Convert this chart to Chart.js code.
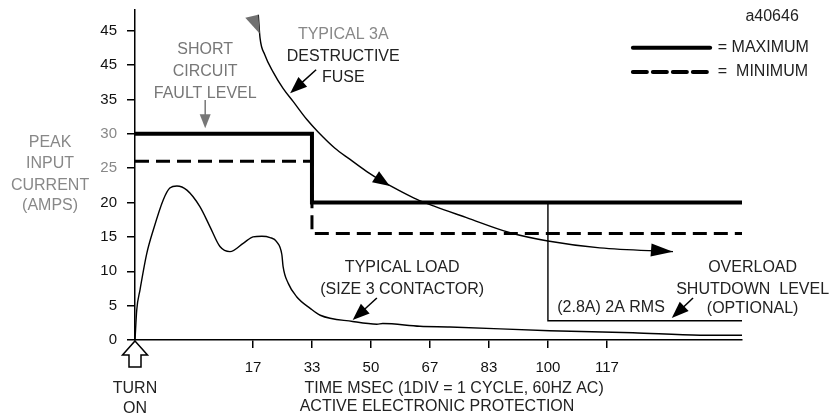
<!DOCTYPE html>
<html>
<head>
<meta charset="utf-8">
<script src="https://cdn.jsdelivr.net/npm/chart.js@4.4.1/dist/chart.umd.min.js"></script>
<style>
  body { margin: 0; background: #fff; }
  canvas { display: block; }
</style>
</head>
<body>
<canvas id="chart" width="832" height="418"></canvas>
<script>
// x is in divisions (1 div = 1 cycle), y in amps
const xTickPos = [2, 3, 4, 5, 6, 7, 8];
const xTickLabels = ['17', '33', '50', '67', '83', '100', '117'];
const yTickPos = [0, 5, 10, 15, 20, 25, 30, 35, 40, 45];
const yTickLabels = ['0', '5', '10', '15', '20', '25', '30', '35', '45', '45'];

const maxX = [0, 3, 3, 10.29];
const maxY = [30, 30, 20, 20];
const minX = [0, 3, 3, 10.29];
const minY = [26, 26, 15.5, 15.5];

const loadX = [0, 0.03, 0.085, 0.2, 0.31, 0.48, 0.59, 0.71, 0.88, 1.10, 1.27, 1.44, 1.61, 1.84, 2.0, 2.15, 2.29, 2.40, 2.49, 2.51, 2.6, 2.74, 2.97, 3.14, 3.69, 4.1, 4.2, 4.83, 5.34, 7.03, 8.44, 9.58, 10.29];
const loadY = [0, 4.4, 7.3, 12.6, 16.0, 20.4, 22.1, 22.4, 21.8, 19.4, 16.5, 13.6, 12.85, 14.1, 15.0, 15.1, 14.9, 14.3, 12.4, 10.7, 8.2, 6.3, 4.6, 3.6, 2.7, 2.3, 2.4, 2.0, 1.9, 1.35, 1.06, 0.7, 0.7];

const fuseX = [2.09, 2.12, 2.20, 2.34, 2.51, 2.68, 2.91, 3.10, 3.39, 3.64, 3.93, 4.21, 4.49, 4.77, 5.06, 5.62, 6.36, 7.0, 7.88, 9.12];
const fuseY = [47.3, 43.9, 41.5, 39.0, 36.6, 34.7, 32.1, 30.3, 27.9, 26.3, 24.5, 23.0, 21.7, 20.5, 19.5, 17.8, 15.6, 14.4, 13.4, 12.85];

const overloadX = [7, 7, 10.29];
const overloadY = [20, 2.8, 2.8];

const FONT = '"Liberation Sans", Arial, sans-serif';

function pts(xs, ys) {
  return xs.map((x, i) => ({ x: x, y: ys[i] }));
}

// text annotations: [text, x, y, color]
const labels = [
  ['a40646', 10.80, 47.1, '#222'],
  ['SHORT', 1.19, 42.2, '#777'],
  ['CIRCUIT', 1.19, 39.1, '#777'],
  ['FAULT LEVEL', 1.19, 35.9, '#777'],
  ['TYPICAL 3A', 3.53, 44.4, '#888'],
  ['DESTRUCTIVE', 3.53, 41.2, '#222'],
  ['FUSE', 3.53, 38.1, '#222'],
  ['PEAK', -1.44, 28.65, '#888'],
  ['INPUT', -1.44, 25.6, '#888'],
  ['CURRENT', -1.44, 22.5, '#888'],
  ['(AMPS)', -1.44, 19.5, '#888'],
  ['TYPICAL LOAD', 4.53, 10.6, '#222'],
  ['(SIZE 3 CONTACTOR)', 4.53, 7.4, '#222'],
  ['OVERLOAD', 10.47, 10.6, '#222'],
  ['SHUTDOWN  LEVEL', 10.47, 7.4, '#222'],
  ['(OPTIONAL)', 10.47, 4.5, '#222'],
  ['(2.8A) 2A RMS', 8.07, 4.65, '#222'],
  ['TURN', 0, -7.0, '#222'],
  ['ON', 0, -10.0, '#222'],
  ['TIME MSEC (1DIV = 1 CYCLE, 60HZ AC)', 5.41, -7.0, '#222'],
  ['ACTIVE ELECTRONIC PROTECTION', 5.12, -9.75, '#222']
];

// arrows: [fromX, fromY, toX, toY, color, headLen, headHalfW, drawShaft]
const arrows = [
  [1.19, 34.9, 1.19, 30.8, '#777', 14, 5.5, true],
  [3.07, 39.3, 2.63, 35.9, '#000', 17, 6.5, true],
  [4.10, 6.1, 3.69, 2.9, '#000', 17, 6.5, true],
  [9.46, 6.1, 9.10, 3.2, '#000', 17, 6.5, true],
  [4.03, 24.0, 4.32, 22.4, '#000', 17, 6.5, false],
  [8.75, 13.1, 9.12, 12.85, '#000', 22, 6.5, false]
];

function arrowHead(ctx, x1, y1, x2, y2, len, hw, color) {
  const a = Math.atan2(y2 - y1, x2 - x1);
  const bx = x2 - len * Math.cos(a), by = y2 - len * Math.sin(a);
  ctx.fillStyle = color;
  ctx.beginPath();
  ctx.moveTo(x2, y2);
  ctx.lineTo(bx + hw * Math.sin(a), by - hw * Math.cos(a));
  ctx.lineTo(bx - hw * Math.sin(a), by + hw * Math.cos(a));
  ctx.closePath();
  ctx.fill();
}

const annotations = {
  id: 'annotations',
  afterDraw(chart) {
    const ctx = chart.ctx;
    const xs = chart.scales.x, ys = chart.scales.y;
    const px = v => xs.getPixelForValue(v);
    const py = v => ys.getPixelForValue(v);
    ctx.save();

    ctx.font = '16px ' + FONT;
    ctx.textAlign = 'center';
    ctx.textBaseline = 'middle';
    labels.forEach(l => {
      ctx.fillStyle = l[3];
      ctx.fillText(l[0], px(l[1]), py(l[2]));
    });

    arrows.forEach(a => {
      const x1 = px(a[0]), y1 = py(a[1]), x2 = px(a[2]), y2 = py(a[3]);
      if (a[7]) {
        ctx.strokeStyle = a[4];
        ctx.lineWidth = 1.5;
        ctx.beginPath();
        ctx.moveTo(x1, y1);
        const ang = Math.atan2(y2 - y1, x2 - x1);
        ctx.lineTo(x2 - (a[5] - 2) * Math.cos(ang), y2 - (a[5] - 2) * Math.sin(ang));
        ctx.stroke();
      }
      arrowHead(ctx, x1, y1, x2, y2, a[5], a[6], a[4]);
    });

    // gray marker at the start of the fuse curve
    const fx = px(fuseX[0]), fy = py(fuseY[0]);
    ctx.fillStyle = '#707070';
    ctx.beginPath();
    ctx.moveTo(fx - 13, fy + 3);
    ctx.lineTo(fx, fy);
    ctx.lineTo(fx + 1.5, fy + 19);
    ctx.closePath();
    ctx.fill();

    // legend
    const lx1 = px(8.44), lx2 = px(9.75);
    ctx.strokeStyle = '#000';
    ctx.lineWidth = 4;
    ctx.lineCap = 'round';
    ctx.beginPath();
    ctx.moveTo(lx1, py(42.5));
    ctx.lineTo(lx2, py(42.5));
    ctx.stroke();
    ctx.setLineDash([14, 6]);
    ctx.beginPath();
    ctx.moveTo(lx1, py(39.0));
    ctx.lineTo(lx2, py(39.0));
    ctx.stroke();
    ctx.setLineDash([]);
    ctx.lineCap = 'butt';
    ctx.fillStyle = '#222';
    ctx.textAlign = 'left';
    ctx.fillText('= MAXIMUM', px(9.88), py(42.5));
    ctx.fillText('=  MINIMUM', px(9.88), py(39.0));

    // hollow turn-on arrow under the origin
    const ox = px(0), oy = py(0) + 1;
    ctx.fillStyle = '#fff';
    ctx.strokeStyle = '#000';
    ctx.lineWidth = 1.5;
    ctx.beginPath();
    ctx.moveTo(ox, oy);
    ctx.lineTo(ox + 12.5, oy + 14);
    ctx.lineTo(ox + 6, oy + 14);
    ctx.lineTo(ox + 6, oy + 26);
    ctx.lineTo(ox - 6, oy + 26);
    ctx.lineTo(ox - 6, oy + 14);
    ctx.lineTo(ox - 12.5, oy + 14);
    ctx.closePath();
    ctx.fill();
    ctx.stroke();

    ctx.restore();
  }
};

new Chart(document.getElementById('chart').getContext('2d'), {
  type: 'scatter',
  data: {
    datasets: [
      { label: 'Maximum', data: pts(maxX, maxY), showLine: true, borderColor: '#000', borderWidth: 4, borderCapStyle: 'round', tension: 0 },
      { label: 'Minimum', data: pts(minX, minY), showLine: true, borderColor: '#000', borderWidth: 3, borderDash: [14, 7], tension: 0 },
      { label: 'Typical load', data: pts(loadX, loadY), showLine: true, borderColor: '#000', borderWidth: 1.4, cubicInterpolationMode: 'monotone' },
      { label: 'Fuse', data: pts(fuseX, fuseY), showLine: true, borderColor: '#000', borderWidth: 1.4, cubicInterpolationMode: 'monotone' },
      { label: 'Overload', data: pts(overloadX, overloadY), showLine: true, borderColor: '#000', borderWidth: 1.4, tension: 0 }
    ]
  },
  options: {
    responsive: false,
    animation: false,
    devicePixelRatio: 1,
    layout: { padding: { left: 0, top: 10, right: 90, bottom: 0 } },
    elements: { point: { radius: 0, hoverRadius: 0 } },
    plugins: { legend: { display: false }, tooltip: { enabled: false } },
    scales: {
      x: {
        type: 'linear',
        min: 0,
        max: 10.29,
        afterBuildTicks: axis => { axis.ticks = xTickPos.map(v => ({ value: v })); },
        afterFit: axis => { axis.height = 78; axis.paddingLeft = 0; axis.paddingRight = 0; },
        border: { display: true, color: '#000', width: 1.5 },
        grid: { display: true, drawOnChartArea: false, drawTicks: true, tickLength: 8, color: '#000', lineWidth: 1.5 },
        ticks: {
          autoSkip: false,
          maxRotation: 0,
          padding: 11,
          color: '#111',
          font: { family: FONT, size: 15 },
          callback: (v, i) => xTickLabels[i]
        }
      },
      y: {
        type: 'linear',
        min: 0,
        max: 48,
        afterBuildTicks: axis => { axis.ticks = yTickPos.map(v => ({ value: v })); },
        afterFit: axis => { axis.width = 135; axis.paddingTop = 0; axis.paddingBottom = 0; },
        border: { display: true, color: '#000', width: 1.5 },
        grid: { display: true, drawOnChartArea: false, drawTicks: true, tickLength: 8, color: '#000', lineWidth: 1.5 },
        ticks: {
          padding: 10,
          color: ctx => (ctx.tick && (ctx.tick.value === 25 || ctx.tick.value === 30)) ? '#888' : '#111',
          font: { family: FONT, size: 15 },
          callback: (v, i) => yTickLabels[i]
        }
      }
    }
  },
  plugins: [annotations]
});
</script>
</body>
</html>
